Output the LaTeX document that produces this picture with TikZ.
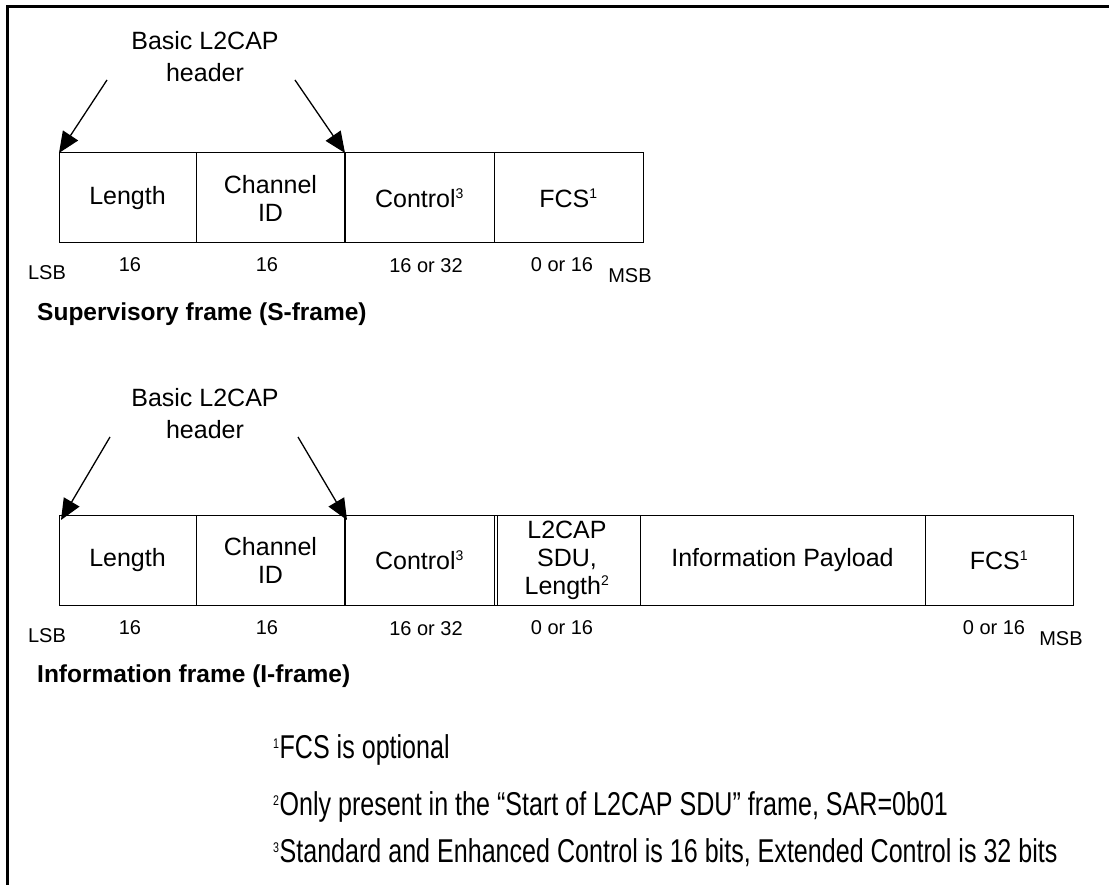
\documentclass[tikz,border=0pt]{standalone}
\usepackage{fontspec}
\setmainfont{Liberation Sans}
\newfontfamily\footfont[FakeStretch=0.76]{Liberation Sans}
\usetikzlibrary{arrows.meta}
\newcommand{\supn}[1]{\textsuperscript{\fontsize{14}{14}\selectfont #1}}
\begin{document}
\begin{tikzpicture}[x=1pt,y=-1pt,
  cell/.style={draw, line width=1pt, inner sep=0pt, outer sep=0pt, minimum height=90pt, align=center, font=\fontsize{25}{28}\selectfont},
  lbl/.style={anchor=base, inner sep=0pt, font=\fontsize{20}{22}\selectfont},
  captext/.style={anchor=base west, inner sep=0pt, font=\fontsize{24.5}{26}\selectfont\bfseries},
  hdr/.style={align=center, inner sep=0pt, anchor=base, font=\fontsize{25}{32}\selectfont},
  foot/.style={anchor=base west, inner sep=0pt, font=\footfont\fontsize{33}{36}\selectfont},
  arr/.style={line width=1.3pt, arrows={-Triangle[length=21pt,width=18pt]}},
  frameline/.style={line width=3pt}]
\useasboundingbox (0,0) rectangle (1109,885);
\draw[frameline] (7,885) -- (7,7) -- (1109,7);

% ---------- S-frame ----------
\node[cell, minimum width=137pt] (s1) at (127.5,198) {Length};
\node[cell, minimum width=149pt] (s2) at (270.5,198) {Channel\\ID};
\node[cell, minimum width=149pt] (s3) at (419.5,198) {Control\supn{3}};
\node[cell, minimum width=149pt] (s4) at (568.5,198) {FCS\supn{1}};
\draw[line width=1.8pt] (s2.north east) -- (s2.south east);

\node[hdr] (sh) at (205,82) {Basic L2CAP\\header};
\coordinate (sa1) at (107,80);
\coordinate (sa2) at (295,80);
\draw[arr] (sa1) -- (s1.north west);
\draw[arr] (sa2) -- (s2.north east);

\node[lbl] (sl0) at (47,280) {LSB};
\node[lbl] (sl1) at (130,272) {16};
\node[lbl] (sl2) at (267,272) {16};
\node[lbl] (sl3) at (426,273) {16 or 32};
\node[lbl] (sl4) at (562,272) {0 or 16};
\node[lbl] (sl5) at (630,283) {MSB};
\node[captext] (scap) at (37,321) {Supervisory frame (S-frame)};

% ---------- I-frame ----------
\node[cell, minimum width=137pt] (i1) at (127.5,560) {Length};
\node[cell, minimum width=149pt] (i2) at (270.5,560) {Channel\\ID};
\node[cell, minimum width=149pt] (i3) at (419.5,560) {Control\supn{3}};
\node[cell, minimum width=146pt] (i4) at (567,560) {L2CAP\\SDU,\\Length\supn{2}};
\node[cell, minimum width=285pt] (i5) at (782.5,560) {Information Payload};
\node[cell, minimum width=148pt] (i6) at (999,560) {FCS\supn{1}};
\draw[line width=1.8pt] (i2.north east) -- (i2.south east);
\draw[line width=1pt] ([xshift=3pt]i4.north west) -- ([xshift=3pt]i4.south west);

\node[hdr] (ih) at (205,438) {Basic L2CAP\\header};
\coordinate (ia1) at (110,437);
\coordinate (ia2) at (298,437);
\draw[arr] (ia1) -- ([xshift=2pt,yshift=-5pt]i1.north west);
\draw[arr] (ia2) -- ([xshift=2pt,yshift=-5pt]i2.north east);

\node[lbl] (il0) at (47,642) {LSB};
\node[lbl] (il1) at (130,634) {16};
\node[lbl] (il2) at (267,634) {16};
\node[lbl] (il3) at (426,635) {16 or 32};
\node[lbl] (il4) at (562,634) {0 or 16};
\node[lbl] (il5) at (994,634) {0 or 16};
\node[lbl] (il6) at (1061,645) {MSB};
\node[captext] (icap) at (37,682) {Information frame (I-frame)};

% ---------- footnotes ----------
\node[foot] (f1) at (273,758) {\supn{1}FCS is optional};
\node[foot] (f2) at (273,815) {\supn{2}Only present in the “Start of L2CAP SDU” frame, SAR=0b01};
\node[foot] (f3) at (273,862) {\supn{3}Standard and Enhanced Control is 16 bits, Extended Control is 32 bits};
\end{tikzpicture}
\end{document}
